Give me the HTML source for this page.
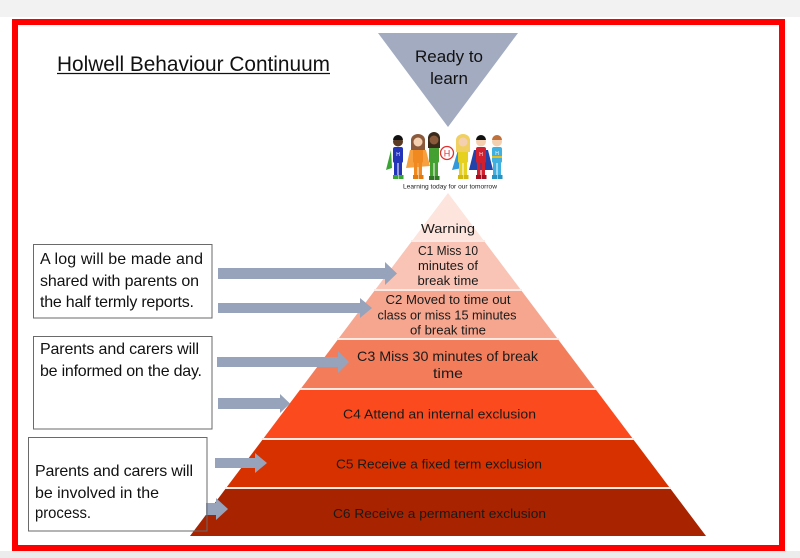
<!DOCTYPE html>
<html><head><meta charset="utf-8"><style>
html,body{margin:0;padding:0;background:#fff;}
svg{display:block;}
text{font-family:"Liberation Sans",Arial,sans-serif;}
</style></head><body>
<svg width="800" height="558" viewBox="0 0 800 558" xmlns="http://www.w3.org/2000/svg">
<rect x="0" y="0" width="800" height="558" fill="#ffffff"/>
<rect x="0" y="0" width="800" height="17" fill="#f2f2f2"/>
<rect x="0" y="551" width="800" height="7" fill="#ececec"/>
<!-- red frame -->
<rect x="15" y="22" width="767" height="526" fill="#ffffff" stroke="#ff0000" stroke-width="6"/>

<!-- title -->
<text x="57" y="71" font-size="21" fill="#111" textLength="273" lengthAdjust="spacingAndGlyphs">Holwell Behaviour Continuum</text>
<line x1="57" y1="73.5" x2="330" y2="73.5" stroke="#111" stroke-width="1.3"/>

<!-- ready to learn triangle -->
<polygon points="378,33 518,33 448,127" fill="#a2abc0"/>
<text x="449" y="62" font-size="17" fill="#111" text-anchor="middle" textLength="68">Ready to</text>
<text x="449" y="84" font-size="17" fill="#111" text-anchor="middle">learn</text>

<!-- logo figures -->
<g>
  <path d="M391,150 L386,170 L392,168 Z" fill="#3aa535"/>
  <rect x="393" y="147" width="10" height="16" rx="2" fill="#2434b8"/>
  <rect x="394" y="162" width="3.5" height="14" fill="#2434b8"/><rect x="398.5" y="162" width="3.5" height="14" fill="#2434b8"/>
  <rect x="393" y="175" width="5" height="4" fill="#3aa535"/><rect x="398.5" y="175" width="5" height="4" fill="#3aa535"/>
  <circle cx="398" cy="141.5" r="5" fill="#5a3a22"/><path d="M393,140 a5,5 0 0 1 10,0 z" fill="#111"/>
  <text x="398" y="156" font-size="5" fill="#fff" text-anchor="middle">H</text>
  <path d="M410,150 L406,168 L430,166 L426,150 Z" fill="#f6a040"/>
  <rect x="413" y="147" width="10" height="16" rx="2" fill="#f08a20"/>
  <rect x="414" y="162" width="3.5" height="14" fill="#f08a20"/><rect x="418.5" y="162" width="3.5" height="14" fill="#f08a20"/>
  <rect x="413" y="175" width="5" height="4" fill="#e07a10"/><rect x="418.5" y="175" width="5" height="4" fill="#e07a10"/>
  <path d="M411,150 L411,140 a7,6 0 0 1 14,0 L425,150 Z" fill="#8b5a3c"/>
  <circle cx="418" cy="142" r="4.5" fill="#f5d0b0"/>
  <rect x="429" y="146" width="10" height="17" rx="2" fill="#45a032"/>
  <rect x="430" y="162" width="3.5" height="15" fill="#45a032"/><rect x="434.5" y="162" width="3.5" height="15" fill="#45a032"/>
  <rect x="429" y="176" width="5" height="4" fill="#2e7a22"/><rect x="434.5" y="176" width="5" height="4" fill="#2e7a22"/>
  <path d="M428,148 L428,138 a6,6 0 0 1 12,0 L440,148 Z" fill="#3a2a1a"/>
  <circle cx="434" cy="140" r="4.5" fill="#8a5a3a"/>
  <circle cx="447" cy="153" r="6.5" fill="#fff" stroke="#e03030" stroke-width="1.3"/>
  <text x="447" y="156.5" font-size="9" fill="#e03030" text-anchor="middle">H</text>
  <path d="M458,150 L452,170 L462,168 Z" fill="#3399dd"/>
  <rect x="458" y="147" width="10" height="16" rx="2" fill="#e6d020"/>
  <rect x="459" y="162" width="3.5" height="14" fill="#e6d020"/><rect x="463.5" y="162" width="3.5" height="14" fill="#e6d020"/>
  <rect x="458" y="175" width="5" height="4" fill="#d0b810"/><rect x="463.5" y="175" width="5" height="4" fill="#d0b810"/>
  <path d="M456,152 L456,140 a7,6 0 0 1 14,0 L470,152 Z" fill="#f0d060"/>
  <circle cx="463" cy="142" r="4.5" fill="#f5d0b0"/>
  <path d="M474,150 L469,170 L493,170 L488,150 Z" fill="#2244aa"/>
  <rect x="476" y="147" width="10" height="16" rx="2" fill="#d02030"/>
  <rect x="477" y="162" width="3.5" height="14" fill="#d02030"/><rect x="481.5" y="162" width="3.5" height="14" fill="#d02030"/>
  <rect x="476" y="175" width="5" height="4" fill="#a01020"/><rect x="481.5" y="175" width="5" height="4" fill="#a01020"/>
  <circle cx="481" cy="141.5" r="5" fill="#f5d0b0"/><path d="M476,140 a5,5 0 0 1 10,0 z" fill="#111"/>
  <text x="481" y="156" font-size="5" fill="#fff" text-anchor="middle">H</text>
  <rect x="492" y="147" width="10" height="16" rx="2" fill="#40b0e0"/>
  <rect x="492" y="156" width="10" height="2" fill="#e6c020"/>
  <rect x="493" y="162" width="3.5" height="14" fill="#40b0e0"/><rect x="497.5" y="162" width="3.5" height="14" fill="#40b0e0"/>
  <rect x="492" y="175" width="5" height="4" fill="#2a90c0"/><rect x="497.5" y="175" width="5" height="4" fill="#2a90c0"/>
  <circle cx="497" cy="141.5" r="5" fill="#f5d0b0"/><path d="M492,140 a5,5 0 0 1 10,0 z" fill="#c0703a"/>
  <text x="497" y="155" font-size="5" fill="#fff" text-anchor="middle">H</text>
</g>
<text x="450" y="188.5" font-size="6.5" fill="#222" text-anchor="middle" textLength="94" lengthAdjust="spacingAndGlyphs">Learning today for our tomorrow</text>

<!-- pyramid bands -->
<polygon points="448,193 484.1,241 411.9,241" fill="#fde4dc"/>
<polygon points="411.9,241 484.1,241 521,290 375,290" fill="#f9c4b5"/>
<polygon points="375,290 521,290 557.8,339 338.2,339" fill="#f6a68f"/>
<polygon points="338.2,339 557.8,339 595.4,389 300.6,389" fill="#f37c5b"/>
<polygon points="300.6,389 595.4,389 633,439 263,439" fill="#fb4b1e"/>
<polygon points="263,439 633,439 669.9,488 226.1,488" fill="#d73100"/>
<polygon points="226.1,488 669.9,488 706,536 190,536" fill="#a82300"/>
<g stroke="#fdeae4" stroke-width="2">
<line x1="411" y1="241" x2="485" y2="241"/>
<line x1="374" y1="290" x2="522" y2="290"/>
<line x1="337" y1="339" x2="559" y2="339"/>
<line x1="300" y1="389" x2="596" y2="389"/>
<line x1="262" y1="439" x2="634" y2="439"/>
<line x1="225" y1="488" x2="671" y2="488"/>
</g>

<!-- pyramid text -->
<g font-size="13" fill="#1a1a1a" text-anchor="middle">
<text x="448" y="233" textLength="54" lengthAdjust="spacingAndGlyphs">Warning</text>
<text x="448" y="255" textLength="60" lengthAdjust="spacingAndGlyphs">C1 Miss 10</text>
<text x="448" y="270" textLength="60" lengthAdjust="spacingAndGlyphs">minutes of</text>
<text x="448" y="285" textLength="61" lengthAdjust="spacingAndGlyphs">break time</text>
<text x="448" y="304" textLength="125" lengthAdjust="spacingAndGlyphs">C2 Moved to time out</text>
<text x="447" y="319.5" textLength="139" lengthAdjust="spacingAndGlyphs">class or miss 15 minutes</text>
<text x="448" y="334.5" textLength="76" lengthAdjust="spacingAndGlyphs">of break time</text>
<text x="447.5" y="361" font-size="14" textLength="181" lengthAdjust="spacingAndGlyphs">C3 Miss 30 minutes of break</text>
<text x="448" y="378" font-size="14" textLength="30" lengthAdjust="spacingAndGlyphs">time</text>
<text x="439.5" y="418.5" textLength="193" lengthAdjust="spacingAndGlyphs">C4 Attend an internal exclusion</text>
<text x="439" y="468.5" textLength="206" lengthAdjust="spacingAndGlyphs">C5 Receive a fixed term exclusion</text>
<text x="439.5" y="518" textLength="213" lengthAdjust="spacingAndGlyphs">C6 Receive a permanent exclusion</text>
</g>

<!-- arrows -->
<g fill="#97a3ba">
<polygon points="218,268 385,268 385,262 397,273.5 385,285 385,279 218,279"/>
<polygon points="218,303 360,303 360,298 372,308 360,318 360,313 218,313"/>
<polygon points="217,357 338,357 338,351 349,362 338,373 338,367 217,367"/>
<polygon points="218,398 280,398 280,394 290,403.5 280,413 280,409 218,409"/>
<polygon points="215,458 255,458 255,453 267,463 255,473 255,468 215,468"/>
<polygon points="206,503 216,503 216,498 228,509 216,520 216,515 206,515"/>
</g>

<!-- left boxes -->
<g fill="none" stroke="#6a6a6a" stroke-width="1">
<rect x="33.5" y="244.5" width="178.5" height="73.5"/>
<rect x="33.5" y="336.5" width="178.5" height="92.5"/>
<rect x="28.5" y="437.5" width="178.5" height="93.5"/>
</g>
<g font-size="16" fill="#111">
<text x="40" y="264" textLength="163">A log will be made and</text>
<text x="40" y="286" textLength="159">shared with parents on</text>
<text x="40" y="307" textLength="154">the half termly reports.</text>
<text x="40" y="354" textLength="159">Parents and carers will</text>
<text x="40" y="376" textLength="162">be informed on the day.</text>
<text x="35" y="476" textLength="158">Parents and carers will</text>
<text x="35" y="498" textLength="124">be involved in the</text>
<text x="35" y="518" textLength="56" lengthAdjust="spacingAndGlyphs">process.</text>
</g>
</svg>
</body></html>
